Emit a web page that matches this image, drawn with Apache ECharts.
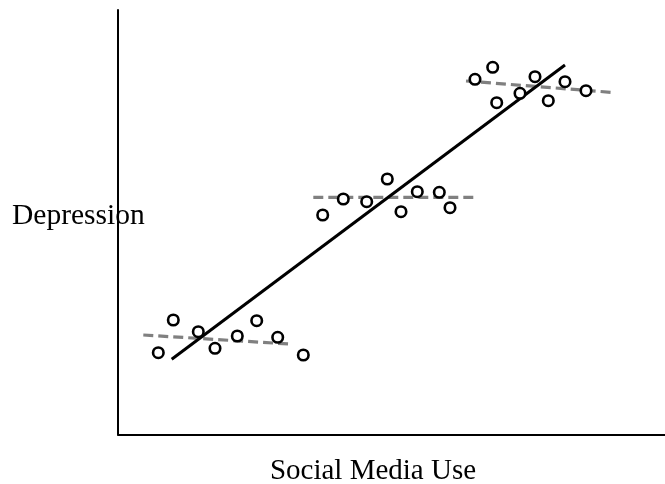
<!DOCTYPE html>
<html><head><meta charset="utf-8">
<script src="https://cdn.jsdelivr.net/npm/echarts@6/dist/echarts.min.js"></script>
<style>html,body{margin:0;padding:0;background:#fff}#c{width:665px;height:484px}</style>
</head><body><div id="c"></div>
<script>
// Units: arbitrary scale (x: 0–547, y: 0–424.5)
var lowGroup = [[40.3,81.8],[55.3,114.5],[80.3,102.8],[97,86.2],[119.3,98.5],[138.7,113.8],[159.7,97.2],[185.3,79.5]];
var midGroup = [[204.7,219.5],[225.3,235.5],[248.7,232.8],[269.3,255.5],[283,222.8],[299.3,242.8],[321.3,242.2],[332,226.8]];
var highGroup = [[357,355.2],[374.7,367.2],[378.7,331.8],[402,341.2],[417,357.8],[430.3,333.8],[447,352.8],[468,343.8]];
var lowFit = [[25.3,99.5],[171.3,90.5]];
var midFit = [[195.3,237.2],[355.3,237.2]];
var highFit = [[348,353.5],[492.7,342.2]];
var overallFit = [[53.7,75.2],[447,369.5]];
var xLabel = 'Social Media Use';
var yLabel = 'Depression';

var chart = echarts.init(document.getElementById('c'));
var FONT = '"Liberation Serif", "Times New Roman", serif';
function dashed(d){return {type:'line',data:d,symbol:'none',silent:true,z:2,lineStyle:{color:'#808080',width:3.2,type:[10,5]}};}
function pts(d){return {type:'scatter',data:d,symbol:'circle',symbolSize:10.5,z:5,itemStyle:{color:'#fff',borderColor:'#000',borderWidth:2.6,opacity:1}};}
chart.setOption({
  animation:false,
  grid:{left:118,right:0,top:10,bottom:49.5},
  xAxis:{type:'value',min:0,max:547,axisLine:{show:true,lineStyle:{color:'#000',width:2}},axisTick:{show:false},axisLabel:{show:false},splitLine:{show:false}},
  yAxis:{type:'value',min:0,max:424.5,axisLine:{show:true,lineStyle:{color:'#000',width:2}},axisTick:{show:false},axisLabel:{show:false},splitLine:{show:false}},
  graphic:[
    {type:'text',x:12,y:201,z:1,style:{text:yLabel,font:'29.5px '+FONT,fill:'#000',align:'left',verticalAlign:'top'}},
    {type:'text',x:373,y:456.5,style:{text:xLabel,font:'29px '+FONT,fill:'#000',align:'center',verticalAlign:'top'}}
  ],
  series:[
    dashed(lowFit),dashed(midFit),dashed(highFit),
    {type:'line',data:overallFit,symbol:'none',silent:true,z:3,lineStyle:{color:'#000',width:3}},
    pts(lowGroup),pts(midGroup),pts(highGroup)
  ]
});
</script></body></html>
